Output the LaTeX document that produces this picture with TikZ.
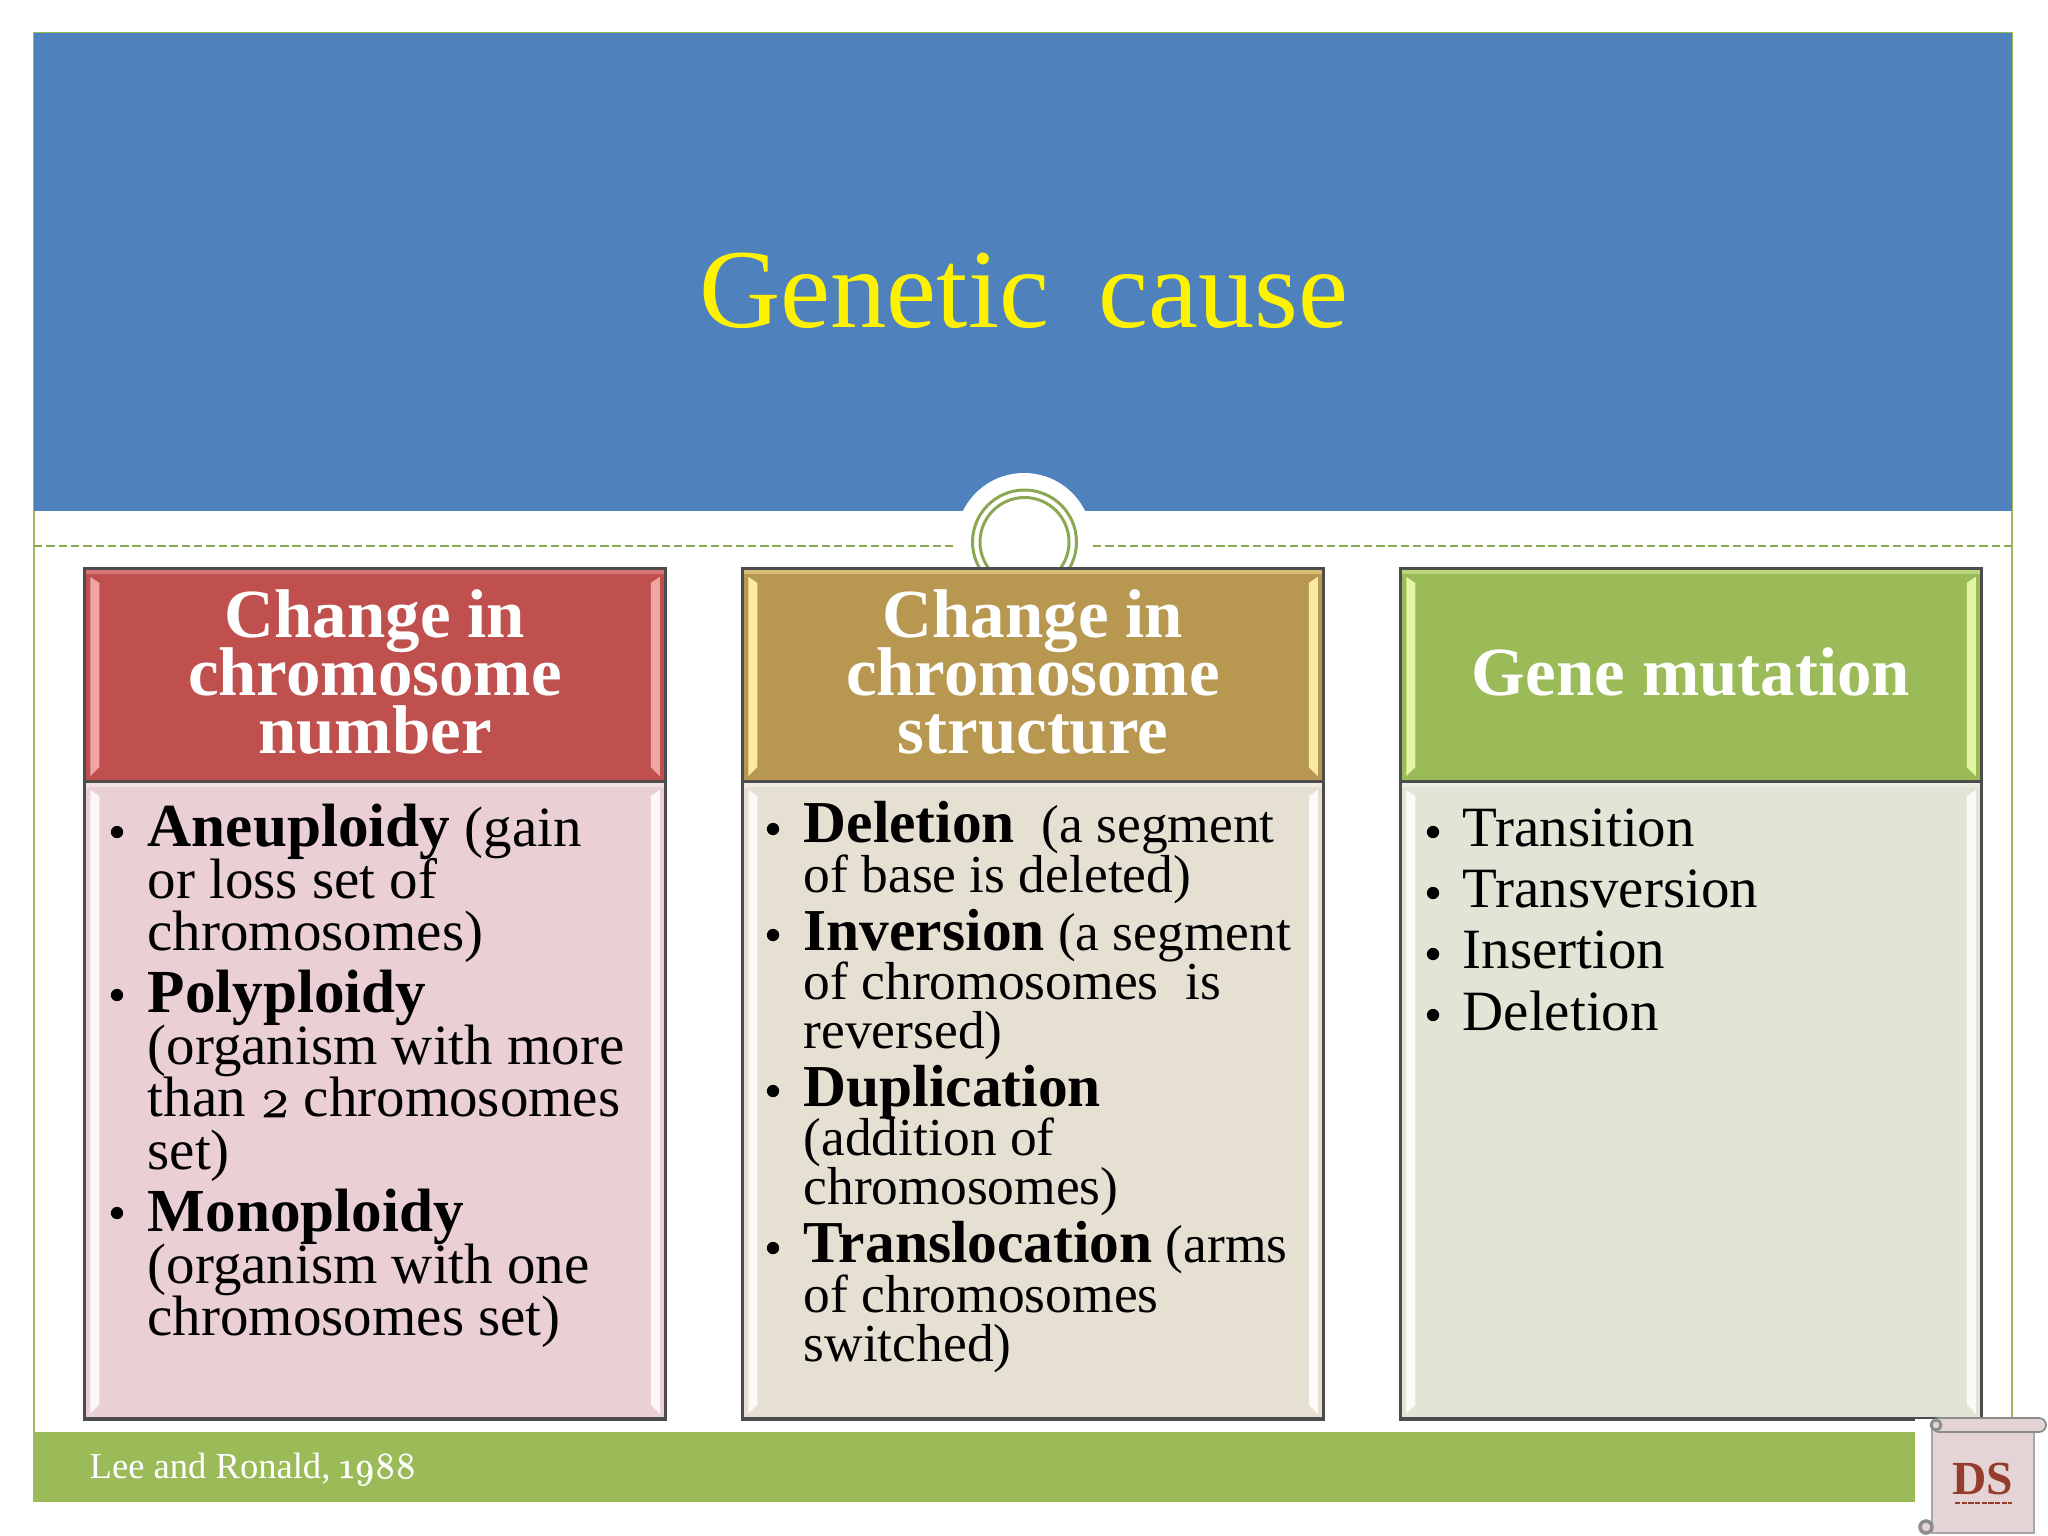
\documentclass[tikz,border=0pt]{standalone}
\usepackage{fontspec}
\setmainfont{Liberation Serif}
\newfontfamily\oldnums[Numbers=OldStyle,FakeBold=1.2]{Latin Modern Roman}
\usetikzlibrary{calc,positioning}
\definecolor{titleblue}{RGB}{79,129,189}
\definecolor{framegreen}{RGB}{155,187,89}
\definecolor{ringgreen}{RGB}{138,168,82}
\definecolor{hdrred}{RGB}{192,80,77}
\definecolor{hdrtan}{RGB}{184,152,80}
\definecolor{bodyred}{RGB}{234,207,213}
\definecolor{bodytan}{RGB}{230,224,211}
\definecolor{bodygreen}{RGB}{225,229,213}
\definecolor{scrollpink}{RGB}{228,212,214}
\definecolor{scrollred}{RGB}{150,60,45}
\definecolor{stripred}{RGB}{240,165,165}
\definecolor{striptan}{RGB}{250,235,160}
\definecolor{stripgreen}{RGB}{228,245,165}
\newcommand{\tightlines}{\lineskiplimit=-30pt\relax}
\tikzset{
  panel/.style={draw=black!70,line width=.9pt,inner sep=0pt,minimum width=5.8cm},
  hdr/.style={panel,minimum height=2.13cm},
  hdrtxt/.style={inner sep=0pt,align=center,text=white,font=\fontsize{19.6}{16.5}\selectfont\bfseries\tightlines},
  bodypanel/.style={panel,minimum height=6.37cm},
  itemtxt/.style={anchor=north west,inner sep=0pt,align=left,text=black},
  bigitem/.style={itemtxt,font=\fontsize{16.2}{14.9}\selectfont\tightlines},
  smallitem/.style={itemtxt,font=\fontsize{15.2}{14}\selectfont\tightlines},
  itemdot/.style={circle,fill=black,inner sep=0pt,minimum size=3.5pt},
  ring/.style={draw=ringgreen,line width=.85pt},
  dashrule/.style={draw=ringgreen,line width=0.8pt,dash pattern=on 2.4pt off 1.1pt}
}
\newcommand{\bevel}[2]{
  \fill[#2] ($(#1.north west)+(7,10)$) -- ($(#1.north west)+(16,16)$) -- ($(#1.south west)+(16,-16)$) -- ($(#1.south west)+(7,-7)$) -- cycle;
  \fill[#2] ($(#1.north east)+(-7,10)$) -- ($(#1.north east)+(-16,16)$) -- ($(#1.south east)+(-16,-16)$) -- ($(#1.south east)+(-7,-7)$) -- cycle;
  \fill[#2,opacity=.45] ($(#1.north west)+(3,3)$) rectangle ($(#1.north east)+(-3,7)$);
}
\newcommand{\bd}[1]{{\fontsize{17.4}{14}\selectfont\bfseries #1}}
\newcommand{\bdb}[1]{{\fontsize{16.9}{14}\selectfont\bfseries #1}}
\begin{document}
\begin{tikzpicture}[x=0.01cm,y=-0.01cm]
\useasboundingbox (0,0) rectangle (2048,1536);
\fill[white] (0,0) rectangle (2048,1536);
% frame and title band
\draw[framegreen,line width=0.5pt] (34,33) rectangle (2012,1501);
\fill[titleblue] (34,33) rectangle (2012,511);
\node[text=yellow,font=\fontsize{32}{34}\selectfont] (title) at (1024,291) {Genetic\hspace{14pt}cause};
\fill[white] (1024,541) circle (68);
\coordinate (dashl) at (34,546);
\coordinate (dashlend) at (956,546);
\coordinate (dashr) at (1093,546);
\coordinate (dashrend) at (2012,546);
\draw[dashrule] (dashl) -- (dashlend);
\draw[dashrule] (dashr) -- (dashrend);
\draw[ring] (1024.5,542) circle (52);
\draw[ring] (1024.5,542) circle (44.5);
% footer
\fill[framegreen] (34,1432) rectangle (1915,1501);
\node[anchor=base west,inner sep=0pt,text=white,font=\fontsize{10.4}{12}\selectfont] (source) at (89,1478) {Lee and Ronald, {\oldnums 1988}};
% columns
\node[hdr,fill=hdrred] (hdr1) at (375,675) {};
\node[hdr,fill=hdrtan] (hdr2) at (1033,675) {};
\node[hdr,fill=framegreen] (hdr3) at (1691,675) {};
\node[bodypanel,fill=bodyred,below=-.9pt of hdr1] (body1) {};
\node[bodypanel,fill=bodytan,below=-.9pt of hdr2] (body2) {};
\node[bodypanel,fill=bodygreen,below=-.9pt of hdr3] (body3) {};
\bevel{hdr1}{stripred}
\bevel{hdr2}{striptan}
\bevel{hdr3}{stripgreen}
\bevel{body1}{white!85!bodyred}
\bevel{body2}{white!85!bodytan}
\bevel{body3}{white!85!bodygreen}
\node[hdrtxt] (t1) at (375,672) {Change in\\chromosome\\number};
\node[hdrtxt] (t2) at (1033,672) {Change in\\chromosome\\structure};
\node[hdrtxt] (t3) at (1691,672) {Gene mutation};
% column 1
\node[bigitem] (a1) at (147,803) {\bd{Aneuploidy} (gain\\or loss set of\\chromosomes)};
\node[bigitem] (a2) at (147,969) {\bd{Polyploidy}\\(organism with more\\than {\oldnums 2} chromosomes\\set)};
\node[bigitem] (a3) at (147,1188) {\bd{Monoploidy}\\(organism with one\\chromosomes set)};
\node[itemdot] (da1) at (117,832) {};
\node[itemdot] (da2) at (117,995) {};
\node[itemdot] (da3) at (117,1213) {};
% column 2
\node[smallitem] (b1) at (803,801) {\bdb{Deletion}\ \ (a segment\\of base is deleted)};
\node[smallitem] (b2) at (803,908.5) {\bdb{Inversion} (a segment\\of chromosomes\ \ is\\reversed)};
\node[smallitem] (b3) at (803,1064.5) {\bdb{Duplication}\\(addition of\\chromosomes)};
\node[smallitem] (b4) at (803,1221) {\bdb{Translocation} (arms\\of chromosomes\\switched)};
\node[itemdot] (db1) at (773,829) {};
\node[itemdot] (db2) at (773,935) {};
\node[itemdot] (db3) at (773,1091) {};
\node[itemdot] (db4) at (773,1248) {};
% column 3
\node[bigitem] (c1) at (1462,808) {Transition};
\node[bigitem] (c2) at (1462,869) {Transversion};
\node[bigitem] (c3) at (1462,930) {Insertion};
\node[bigitem] (c4) at (1462,990) {Deletion};
\node[itemdot] (dc1) at (1433,832) {};
\node[itemdot] (dc2) at (1433,893) {};
\node[itemdot] (dc3) at (1433,954) {};
\node[itemdot] (dc4) at (1433,1015) {};
% scroll
\fill[white] (1915,1419) rectangle (2048,1536);
\fill[scrollpink,draw=black!35,line width=0.5pt] (1932,1425) rectangle (2034,1533);
\fill[scrollpink,draw=black!45,line width=0.5pt,rounded corners=2pt] (1932,1418) rectangle (2046,1432);
\draw[black!45,line width=0.8pt] (1936,1425) circle (5);
\draw[black!45,line width=1pt,fill=scrollpink] (1926,1527) circle (6);
\node[text=scrollred,font=\fontsize{13.5}{13.5}\selectfont\bfseries,inner sep=0pt] (dslogo) at (1983,1479) {DS};
\coordinate (dsl) at (1955,1503);
\coordinate (dsr) at (2012,1503);
\draw[scrollred,line width=0.5pt,dash pattern=on 1.5pt off 0.4pt] (dsl) -- (dsr);
\end{tikzpicture}
\end{document}
